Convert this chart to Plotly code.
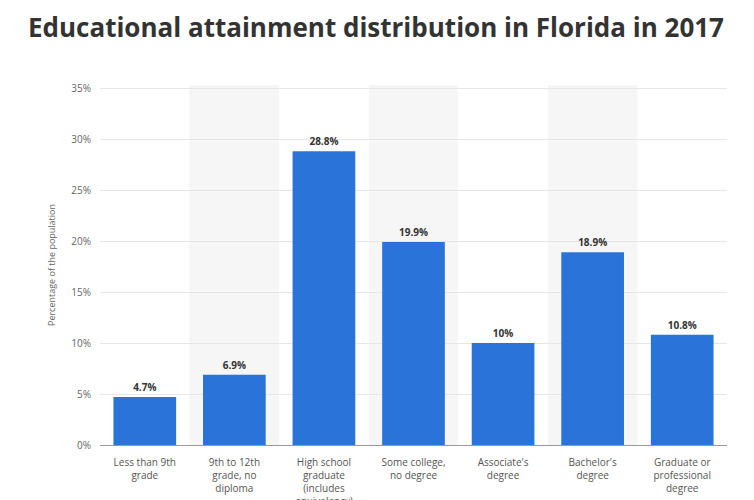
import plotly.graph_objects as go

categories = ["Less than 9th<br>grade", "9th to 12th<br>grade, no<br>diploma",
              "High school<br>graduate<br>(includes<br>equivalency)",
              "Some college,<br>no degree", "Associate's<br>degree",
              "Bachelor's<br>degree", "Graduate or<br>professional<br>degree"]
values = [4.7, 6.9, 28.8, 19.9, 10.0, 18.9, 10.8]
labels = ["4.7%", "6.9%", "28.8%", "19.9%", "10%", "18.9%", "10.8%"]
tick_vals = [0, 5, 10, 15, 20, 25, 30, 35]
tick_text = ["0%", "5%", "10%", "15%", "20%", "25%", "30%", "35%"]

fig = go.Figure()
fig.add_trace(go.Bar(
    x=list(range(len(categories))), y=values,
    marker=dict(color="#2a74d9", line=dict(width=0)),
    width=0.7,
    text=labels, textposition="outside",
    textfont=dict(family="Open Sans", size=10, color="#333333", weight="bold"),
    cliponaxis=False,
))

shapes = []
for i in range(len(categories)):
    if i % 2 == 1:
        shapes.append(dict(type="rect", xref="x", yref="paper",
                           x0=i - 0.5, x1=i + 0.5, y0=0, y1=1,
                           fillcolor="#f6f6f6", line=dict(width=0), layer="below"))

fig.update_layout(
    width=754, height=500,
    margin=dict(l=92, r=35, t=77, b=63),
    paper_bgcolor="white", plot_bgcolor="white",
    title=dict(text="<b>Educational attainment distribution in Florida in 2017</b>",
               x=0.0265, xanchor="left", y=0.96, yanchor="middle",
               font=dict(family="Open Sans", size=26, color="#333333")),
    shapes=shapes,
    showlegend=False,
)
fig.update_xaxes(
    tickmode="array", tickvals=list(range(len(categories))), ticktext=categories,
    range=[-0.5, len(categories) - 0.5],
    tickfont=dict(family="Open Sans", size=10, color="#555555"),
    showgrid=False, showline=True, linecolor="#999999", linewidth=1,
    ticks="", automargin=False, ticklabelstandoff=8,
)
fig.update_yaxes(
    range=[0, 35.3], tickmode="array", tickvals=tick_vals, ticktext=tick_text,
    tickfont=dict(family="Open Sans", size=10, color="#666666"),
    showgrid=True, gridcolor="#e6e6e6", gridwidth=1, zeroline=False,
    ticks="", ticklabelstandoff=8,
    title=dict(text="Percentage of the population",
               font=dict(family="Open Sans", size=9, color="#666666"), standoff=14),
    automargin=False,
)

fig.write_html("out.html")
